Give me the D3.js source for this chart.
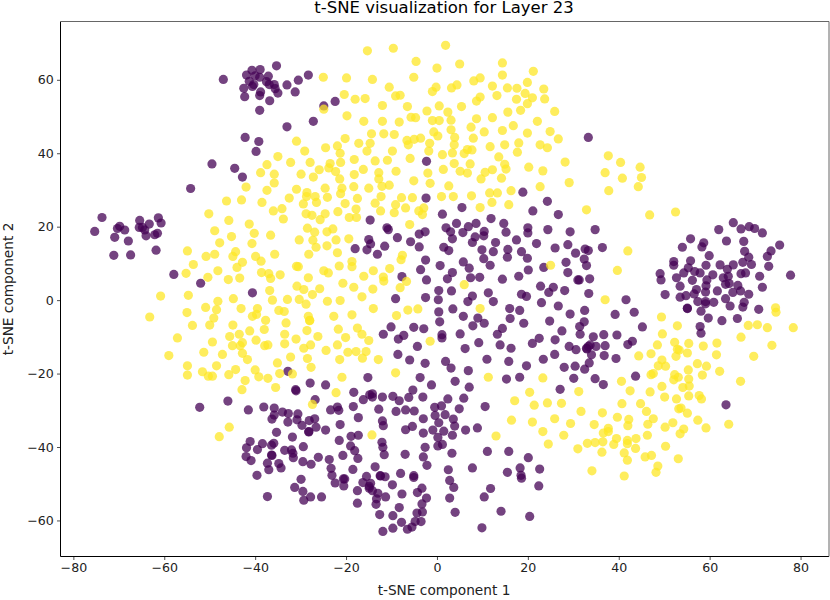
<!DOCTYPE html>
<html><head><meta charset="utf-8">
<script src="https://cdn.jsdelivr.net/npm/d3@7/dist/d3.min.js"></script>
<style>html,body{margin:0;padding:0;background:#fff}svg{display:block}text{font-family:"DejaVu Sans",sans-serif;fill:#000}</style>
</head><body><svg id="c" width="830" height="600"></svg>
<script>
const chartTitle = "t-SNE visualization for Layer 23";
const xLabel = "t-SNE component 1";
const yLabel = "t-SNE component 2";
const xTicks = [-80,-60,-40,-20,0,20,40,60,80];
const yTicks = [-60,-40,-20,0,20,40,60];
const classZero = [
[-47.0,60.1],[-40.7,62.6],[-38.9,62.8],[-35.3,63.8],[-41.9,61.3],[-40.0,61.1],[-39.0,60.7],[-37.1,61.0],[-41.3,59.6],[-37.5,59.5],[-40.3,58.7],[-40.6,58.2],[-36.9,58.7],[-35.8,58.7],[-35.6,57.6],[-35.0,56.4],[-42.5,57.7],[-38.8,56.7],[-39.0,55.7],[-42.3,55.4],[-36.8,54.3],[-39.0,51.7],[-33.0,58.6],[-30.5,59.9],[-28.3,61.3],[-31.2,56.7],[-33.0,47.2],[-27.2,48.7],[-42.2,44.3],[-39.2,43.2],[-39.8,40.5],[-49.5,37.1],[-44.5,35.9],[-42.8,33.5],[-54.2,30.4],[-24.9,52.9],[-22.4,54.1],
[-2.3,37.8],[18.9,29.4],[-2.4,27.8],[24.3,26.9],
[33.3,44.3],[34.8,19.2],[65.2,21.1],[62.0,19.2],[66.9,19.4],[68.7,20.0],[69.9,19.5],[71.6,18.3],[55.8,16.7],[58.7,15.6],[58.3,14.5],[54.0,14.4],[63.7,16.1],[67.5,16.0],[75.4,15.0],[73.5,13.4],[72.7,11.9],[67.7,13.3],[68.6,11.7],[59.9,12.1],[69.2,9.7],[67.3,10.3],[73.0,9.2],[55.8,10.7],[52.1,10.5],[52.1,9.5],[55.3,8.8],[59.2,9.5],[62.3,9.6],[65.2,9.6],[63.9,8.4],[56.7,7.8],[57.9,7.4],[54.3,7.4],[49.1,7.2],[49.3,5.5],[60.7,6.9],[66.9,7.2],[67.9,7.4],[71.0,6.5],[77.8,6.8],[52.7,6.1],[56.2,5.4],[63.0,6.1],[64.1,6.5],[59.4,5.5],[53.5,3.8],[59.2,3.9],[63.5,4.3],[64.3,4.5],[66.2,4.0],[71.6,3.5],[66.8,2.5],[57.1,2.9],[61.7,2.5],[65.1,2.1],[68.6,1.6],[59.1,2.2],[56.6,1.7],[50.2,1.5],[53.5,0.8],[54.8,1.2],[63.5,0.4],
[57.4,-0.4],[59.1,-0.4],[59.1,-1.0],[60.9,-0.6],[55.1,-2.2],[55.1,-2.3],[58.1,-3.0],[64.5,-1.6],[67.3,-1.9],[67.6,-0.6],[70.8,-2.5],[59.7,-4.9],[62.7,-5.6],[66.1,-5.0],[57.9,-7.2],[58.1,-9.0],[45.2,-7.3],
[32.6,13.9],[33.3,13.5],[36.4,14.3],[32.4,11.2],[32.9,9.4],[31.3,5.5],[33.6,5.8],[33.4,1.8],[41.6,0.1],
[-57.9,7.0],[-52.0,4.6],[-40.6,2.0],[-32.8,-19.4],[-27.9,-22.6],[-24.5,-23.1],[-31.1,-24.4],
[-52.2,-29.2],[-46.0,-27.5],[-41.5,-29.9],[-38.1,-29.1],[-35.8,-29.4],[-34.0,-30.5],[-35.8,-31.3],[-36.3,-32.4],[-32.7,-30.9],[-30.6,-31.0],[-30.8,-32.6],[-32.8,-33.2],[-29.7,-34.1],[-28.1,-32.8],[-26.9,-32.3],[-26.6,-34.6],[-28.2,-35.8],[-28.2,-35.9],[-24.5,-35.4],[-31.0,-24.7],[-26.8,-27.1],[-18.3,-25.1],[-16.2,-27.1],[-14.8,-25.8],[-18.4,-29.0],[-23.4,-29.9],[-21.9,-29.1],[-21.6,-30.0],[-17.3,-32.0],[-21.3,-33.9],[-35.3,-36.0],[-31.8,-37.3],[-21.5,-38.2],[-18.9,-37.1],[-17.3,-36.8],[-41.1,-38.5],[-38.4,-39.1],[-35.9,-39.0],[-36.4,-39.5],[-41.9,-40.2],[-39.5,-40.7],[-29.4,-39.9],[-19.0,-39.7],[-18.1,-41.0],[-33.5,-40.9],[-32.0,-40.8],[-31.7,-41.7],[-42.0,-42.6],[-40.9,-43.7],[-36.4,-42.2],[-36.3,-42.3],[-31.6,-42.9],[-26.1,-42.8],[-20.7,-42.3],[-23.7,-43.4],[-17.4,-43.1],[-29.5,-44.0],[-27.7,-44.7],[-37.3,-44.4],[-34.8,-44.5],[-34.3,-45.7],[-37.0,-46.2],[-23.3,-45.8],[-18.5,-46.1],[-39.6,-47.7],[-23.1,-47.7],[-29.9,-48.8],[-20.6,-48.7],[-20.3,-48.7],[-22.4,-49.8],[-20.5,-50.6],[-31.3,-51.0],[-16.3,-49.7],[-17.5,-51.9],[-29.5,-52.1],[-37.3,-53.5],[-27.8,-53.6],[-25.4,-53.6],[-29.3,-54.5],[-17.5,-55.3],[-15.5,-48.0],[-14.9,-50.7],
[7.1,-23.7],[-5.3,-24.5],[-14.2,-25.5],[-14.2,-26.4],[-12.0,-26.4],[-9.7,-26.2],[-8.3,-27.4],[-6.2,-26.5],[-3.1,-26.4],[2.4,-26.9],[5.9,-26.7],[-0.5,-29.2],[1.0,-28.8],[4.9,-29.6],[10.6,-29.0],[-12.8,-29.7],[-9.0,-30.3],[-6.9,-29.9],[-5.0,-30.2],[-0.4,-31.4],[1.8,-31.2],[-3.0,-32.3],[3.6,-32.4],[0.4,-33.4],[-12.0,-32.9],[-11.8,-34.2],[-5.4,-34.4],[-6.9,-35.3],[3.9,-34.3],[8.9,-34.8],[6.3,-35.4],[-0.9,-35.4],[1.5,-35.7],[-3.0,-36.2],[3.4,-36.8],[0.2,-37.4],[-12.1,-38.7],[-11.9,-40.1],[1.2,-39.3],[0.2,-39.7],[-2.6,-40.1],[11.1,-41.2],[15.8,-41.2],[3.3,-41.7],[-11.6,-42.1],[-7.0,-42.0],[-3.0,-42.7],[20.1,-42.9],[-2.2,-45.0],[-13.6,-45.4],[2.5,-46.2],[7.8,-45.7],[18.3,-45.7],[22.6,-46.0],[15.5,-46.9],[-8.0,-47.2],[-12.5,-47.8],[-12.4,-47.9],[-11.4,-48.1],[-5.1,-47.8],[-5.1,-48.3],[18.5,-47.7],[18.6,-48.5],[2.8,-49.1],[-9.8,-50.3],[-14.6,-49.9],[-14.9,-51.2],[-14.2,-51.9],[3.7,-51.0],[-3.3,-51.2],[11.8,-51.3],[22.4,-50.6],[-4.3,-52.4],[-7.7,-52.8],[-13.0,-52.6],[-11.3,-53.6],[-13.3,-54.1],[-2.3,-53.9],[2.8,-53.9],[10.4,-53.6],[-3.3,-55.5],[-13.4,-55.6],[-8.3,-56.5],[14.1,-57.5],[-3.2,-57.7],[-4.4,-58.0],[4.0,-57.8],[-12.6,-58.4],[-9.7,-58.7],[20.4,-58.9],[-3.5,-60.3],[-4.8,-60.3],[-7.8,-60.5],[-5.5,-61.8],[-6.5,-62.4],[-9.7,-62.1],[-11.9,-63.0],[9.9,-62.0],
[5.5,25.2],[1.2,23.4],[21.1,24.3],[26.7,23.3],[-14.7,21.8],[11.9,22.2],[4.3,20.9],[8.6,20.9],[14.7,20.9],[-11.0,19.7],[-10.7,19.2],[2.0,19.7],[6.9,20.0],[3.0,18.6],[5.7,18.4],[10.4,18.7],[10.3,17.5],[15.2,18.5],[20.0,19.7],[20.0,18.3],[24.4,19.2],[29.3,18.6],[-2.6,18.6],[-3.9,18.0],[-8.7,17.0],[-15.0,16.5],[-14.6,15.3],[8.4,17.2],[3.4,16.7],[7.8,15.7],[12.9,15.7],[17.5,16.4],[21.9,15.4],[28.8,15.1],[-5.8,15.9],[-3.9,14.5],[-11.5,14.7],[-18.0,14.0],[-15.4,13.7],[-13.1,12.5],[1.5,14.4],[2.6,13.5],[9.9,13.7],[12.4,13.2],[15.6,13.8],[15.5,11.7],[18.6,13.2],[26.0,14.2],[30.5,12.8],[10.3,11.3],[19.9,11.4],[-2.5,10.9],[5.8,10.4],[11.7,9.5],[28.4,10.3],[0.7,9.4],[7.1,8.7],[20.1,8.2],[23.5,8.9],[-3.6,8.3],[28.8,7.5],[3.4,7.5],[-7.7,6.4],[2.3,5.8],[7.4,6.1],[9.4,6.2],[14.4,5.7],[18.0,6.5],[-2.3,5.5],[31.0,5.5],[22.8,3.8],[25.6,3.5],[24.6,2.1],[28.1,2.6],[0.4,2.6],[3.2,2.5],[11.3,2.0],[18.6,1.6],[19.7,1.0],[7.8,1.1],[-9.1,0.4],[-2.5,0.7],[6.8,-0.4],[12.4,-0.4],[0.3,0.1],[23.0,-0.7],[26.7,-1.6],[3.5,-2.4],[16.0,-2.3],[18.2,-2.8],[0.4,-3.2],[32.5,-2.8],[29.3,-3.8],[5.8,-4.4],[9.0,-4.9],[16.1,-5.0],[0.6,-5.9],[24.8,-5.7],[10.4,-6.3],[19.1,-6.3],[7.9,-7.0],[-10.1,-7.3],[-5.1,-7.4],[-2.9,-7.8],[14.4,-7.7],[31.4,-7.2],[27.5,-8.4],[5.1,-9.2],[13.3,-9.3],[31.5,-9.3],[-11.8,-9.3],[-7.3,-9.6],[-8.5,-10.6],[1.1,-9.4],[1.1,-10.3],[22.5,-10.4],[26.0,-10.8],[21.0,-11.8],[9.2,-11.6],[13.9,-12.2],[29.1,-12.6],[-4.3,-12.6],[33.3,-12.6],[32.9,-13.1],[30.6,-13.5],[6.2,-13.2],[16.3,-13.1],[-8.6,-14.8],[25.9,-14.8],[-6.0,-16.3],[-2.6,-17.2],[23.4,-16.1],[11.0,-16.1],[1.9,-16.7],[15.8,-16.7],[19.7,-17.9],[3.1,-18.5],[28.0,-18.3],[30.4,-18.0],[32.5,-18.8],[6.9,-19.2],[-15.2,-21.1],[-3.7,-21.1],[4.0,-22.1],[-1.2,-23.1],[18.2,-21.0],[15.3,-21.5],[30.1,-21.3],
[39.2,-3.9],[43.4,-3.3],[32.4,-5.9],[34.4,-10.0],[36.7,-9.4],[39.6,-9.5],[43.0,-11.2],[42.0,-12.1],[33.7,-12.2],[33.0,-13.3],[35.0,-12.6],[37.0,-12.4],[34.0,-14.9],[36.8,-15.1],[39.4,-15.9],[33.5,-17.1],[34.8,-21.4],[36.6,-23.0],[43.7,-20.7],[27.1,-24.3],[63.6,-28.5],
[-73.7,22.5],[-75.3,18.7],[-70.3,19.5],[-69.8,20.1],[-68.7,19.1],[-70.9,17.1],[-67.9,16.1],[-71.1,12.2],[-67.4,12.3],[-65.4,21.7],[-63.3,20.7],[-61.3,22.4],[-60.7,21.0],[-65.5,19.8],[-64.8,19.8],[-64.3,19.1],[-64.0,17.5],[-62.1,17.8],[-61.5,18.2],[-61.8,13.6]
];
const classOne = [
[-24.9,52.0],[-30.9,43.3],[-29.1,40.6],[-35.0,39.1],[-37.4,36.9],[-32.2,37.5],[-27.9,37.5],[-25.9,35.5],[-38.8,34.7],[-35.8,34.3],[-29.9,34.3],[-27.2,33.5],[-35.8,31.9],[-42.0,30.8],[-37.4,29.9],[-30.9,30.2],[-28.6,29.3],[-26.8,28.2],[-28.7,28.2],[-32.5,27.8],[-43.0,27.3],[-46.3,27.0],[-38.5,26.6],
[-15.3,67.9],[-9.6,68.6],[1.9,69.4],[-4.6,65.0],[0.0,63.2],[5.0,64.3],[14.4,64.6],[21.2,62.3],[-25.0,60.7],[-19.9,60.5],[-14.2,60.1],[-5.1,60.7],[14.4,61.3],[8.1,59.7],[9.5,60.5],[19.9,59.3],[-10.5,58.0],[-0.2,58.0],[-1.0,56.8],[3.2,57.8],[4.4,58.6],[12.2,58.3],[15.5,57.8],[17.6,57.7],[23.5,57.5],[19.4,56.3],[-20.4,56.0],[-18.0,54.7],[-15.8,54.9],[-9.1,55.6],[-8.1,55.8],[13.2,55.7],[9.5,55.3],[8.7,54.2],[17.5,54.7],[21.0,55.1],[23.7,54.8],[19.9,53.5],[-12.0,53.0],[-6.5,52.7],[0.5,52.9],[5.4,52.7],[-2.2,51.5],[2.4,51.2],[15.6,51.2],[18.4,51.7],[25.9,51.4],[-19.8,50.2],[-5.7,49.8],[-4.7,49.7],[8.7,49.4],[12.2,49.7],[-16.1,48.7],[-12.0,48.7],[-8.3,48.5],[-1.0,48.9],[0.5,48.9],[3.1,49.0],[22.1,48.7],[7.5,47.1],[16.8,47.5],[3.1,46.4],[14.4,46.2],[10.4,45.8],[19.9,45.5],[24.9,45.9],[-0.7,45.8],[0.2,44.7],[-14.4,45.3],[-11.7,45.3],[-9.4,45.1],[3.9,44.3],[8.0,44.1],[26.7,43.9],[-20.2,44.0],[-6.6,43.5],[-5.0,43.8],[-3.6,44.1],[-6.3,42.3],[-1.6,42.7],[3.8,42.3],[-17.2,42.7],[-14.7,42.7],[18.0,42.8],[14.9,42.3],[11.7,41.8],[22.7,42.3],[24.3,41.5],[-24.5,41.5],[-21.9,42.0],[6.7,41.0],[7.7,40.9],[6.0,39.9],[-15.4,40.6],[-9.8,40.6],[-1.8,40.6],[3.4,40.1],[1.2,39.6],[17.7,40.3],[-21.3,40.0],[13.6,39.0],[-18.2,38.3],[-10.9,38.1],[-5.9,38.6],[-13.6,37.9],[-23.5,37.2],[-21.2,37.5],[28.2,37.6],[3.8,37.2],[7.3,37.1],[14.9,37.0],[20.2,36.2],[-23.8,36.0],[-16.2,35.6],[1.4,35.6],[12.2,35.5],[15.2,35.7],[23.3,35.2],[-22.3,35.0],[-9.0,35.1],[5.1,35.1],[6.7,34.6],[10.6,34.8],[-18.2,34.2],[-12.8,34.7],[-2.0,34.6],[-21.4,33.0],[-12.8,33.0],[9.7,33.0],[14.2,33.2],[-5.1,32.5],[-1.5,31.8],[29.1,32.0],[-10.5,31.3],[-12.1,31.0],[2.6,31.1],[-18.3,30.9],[-24.6,30.5],[-20.9,30.5],[-15.0,30.5],[22.7,30.9],[16.3,29.8],[11.6,29.2],[13.3,29.2],[-21.2,29.0],[1.0,28.2],[3.6,28.2],[7.6,28.4],[-12.3,28.2],[-7.8,27.9],[-5.4,27.9],[-24.1,28.0],[-17.5,27.7],
[37.7,39.3],[40.4,37.5],[44.7,36.2],[37.0,34.7],[40.8,33.2],[45.0,33.4],[44.3,30.9],[37.8,29.8],[32.9,24.6],[46.8,23.2],[52.5,24.0],[42.0,13.4],[39.7,8.1],[37.0,0.1],
[-50.2,23.5],[-29.4,26.2],[-26.5,26.6],[-36.0,24.3],[-34.1,24.9],[-33.8,22.1],[-28.8,23.5],[-27.5,23.1],[-25.7,21.9],[-24.6,23.5],[-45.8,21.7],[-41.3,20.7],[-48.9,18.9],[-40.2,18.2],[-36.6,17.7],[-45.2,17.3],[-28.5,19.6],[-26.9,18.5],[-24.2,18.6],[-47.8,15.6],[-40.7,15.4],[-30.3,16.4],[-27.3,16.3],[-26.6,14.4],[-24.2,14.8],[-54.9,13.4],[-48.9,12.5],[-50.8,11.9],[-44.3,13.2],[-44.9,11.9],[-35.7,12.5],[-39.9,11.9],[-28.2,12.5],[-38.7,10.6],[-53.6,9.7],[-42.8,10.3],[-44.0,8.9],[-48.2,8.0],[-55.2,7.3],[-50.4,6.2],[-45.9,5.6],[-43.4,6.0],[-38.6,7.5],[-37.0,7.2],[-36.6,5.9],[-34.5,6.9],[-30.9,9.2],[-30.5,9.1],[-24.9,8.0],[-23.9,7.4],[-28.3,6.1],[-30.8,3.8],[-29.3,2.9],[-25.8,3.1],[-36.8,2.6],[-27.4,1.5],[-60.8,1.1],[-54.7,1.3],[-36.2,0.0],[-32.9,0.2],[-44.8,0.4],[-48.2,-0.3],[-30.3,0.2],[-28.8,-1.1],[-24.1,-0.3],[-50.9,-2.0],[-48.5,-2.6],[-43.1,-2.3],[-39.5,-2.3],[-34.8,-2.8],[-33.6,-3.1],[-55.0,-3.4],[-39.7,-3.9],[-40.6,-4.4],[-28.3,-4.4],[-49.1,-4.9],[-28.0,-5.5],[-28.0,-5.6],[-63.2,-4.6],[-37.7,-5.5],[-33.2,-6.2],[-53.8,-6.9],[-50.0,-6.8],[-44.9,-6.8],[-38.0,-8.0],[-41.2,-8.4],[-28.6,-8.3],[-43.5,-9.3],[-45.6,-9.9],[-33.5,-9.3],[-26.2,-9.9],[-31.0,-10.6],[-57.1,-10.3],[-39.8,-10.9],[-49.4,-11.4],[-42.8,-11.6],[-45.0,-12.4],[-43.3,-12.4],[-37.9,-12.4],[-37.2,-12.2],[-33.5,-11.9],[-27.8,-12.2],[-29.3,-13.1],[-24.4,-13.7],[-51.3,-14.2],[-47.2,-14.8],[-42.8,-14.5],[-59.0,-15.1],[-41.7,-16.2],[-32.2,-15.5],[-28.5,-15.9],[-35.1,-17.1],[-54.9,-17.9],[-48.5,-17.9],[-27.7,-18.3],[-40.0,-19.0],[-44.3,-18.9],[-51.6,-19.5],[-54.9,-20.4],[-45.8,-20.3],[-34.6,-20.0],[-31.8,-20.1],[-50.3,-20.7],[-49.4,-20.7],[-39.2,-20.9],[-37.2,-21.3],[-42.2,-21.9],[-35.5,-23.8],[-42.9,-24.4],
[-22.2,-25.2],[-27.4,-28.4],[-45.7,-34.6],[-47.9,-37.2],
[-14.3,-36.7],[20.4,-25.1],[17.1,-27.4],[21.4,-28.6],[24.3,-28.0],[16.4,-32.7],[21.0,-33.2],[23.3,-35.8],[13.0,-37.0],[24.5,-39.2],
[-20.2,26.3],[-13.6,26.4],[-9.1,26.0],[-6.9,25.1],[-2.9,25.1],[-4.0,24.3],[-3.2,23.3],[9.5,25.2],[12.1,26.6],[15.8,26.0],[-21.8,24.1],[-17.8,24.8],[-19.3,22.5],[-17.7,22.5],[-12.4,24.3],[-9.4,23.8],[-6.0,20.6],[-22.9,19.4],[-19.4,16.7],[-22.2,16.4],[-21.9,12.9],[-7.6,12.2],[-7.9,11.0],[-18.7,10.5],[-18.7,9.1],[-21.5,9.3],[-10.4,8.6],[-14.0,8.0],[-16.1,6.5],[-11.8,6.3],[-11.7,5.2],[-6.7,5.1],[-20.7,4.6],[-18.3,3.5],[-14.1,3.0],[-8.1,3.4],[6.0,4.2],[-16.5,0.9],[-21.3,-0.1],[25.0,9.5],[-14.0,-2.3],[9.5,-2.3],[-6.4,-2.7],[-4.2,-2.4],[-18.7,-4.0],[-8.9,-4.2],[-22.7,-4.4],[-21.7,-7.9],[-17.5,-7.6],[-16.5,-9.3],[-20.1,-10.2],[-15.0,-11.0],[-1.5,-11.2],[-21.9,-12.2],[-19.6,-14.2],[-17.8,-14.0],[-15.6,-14.0],[-16.4,-15.8],[-21.4,-16.2],[-12.9,-16.2],[-9.1,-19.8],[-20.9,-21.0],[11.3,-21.0],[23.3,-21.2],
[49.4,-4.6],[52.9,-7.0],[49.6,-9.2],[74.5,-2.1],[74.6,-3.3],[68.5,-6.9],[70.5,-6.7],[72.7,-7.5],[78.4,-7.5],[66.9,-10.1],[73.7,-12.3],[48.5,-12.2],[52.3,-11.5],[55.4,-11.8],[58.6,-12.5],[61.6,-11.7],[52.9,-13.4],[53.3,-13.6],[47.1,-14.6],[44.4,-15.2],[55.1,-14.4],[61.5,-14.9],[52.6,-15.3],[69.7,-15.3],[49.5,-16.3],[57.3,-17.3],[48.7,-17.9],[50.3,-18.0],[59.3,-18.0],[55.3,-19.0],[62.2,-19.4],[47.1,-20.3],[47.6,-20.0],[52.3,-20.3],[53.1,-21.0],[52.1,-21.7],[58.4,-20.4],[55.4,-21.5],[40.6,-22.1],[66.8,-22.1],[55.5,-23.4],[54.1,-23.8],[49.5,-23.5],[31.2,-24.9],[42.5,-24.7],[46.9,-25.0],[50.1,-26.4],[52.7,-26.9],[55.4,-26.1],[57.7,-26.0],[58.2,-26.9],[27.4,-28.1],[40.7,-28.2],[44.8,-28.2],[46.1,-30.3],[53.2,-29.6],[53.7,-29.4],[55.1,-30.8],[31.7,-30.3],[36.4,-30.7],[39.7,-31.9],[25.9,-32.3],[42.2,-32.5],[47.6,-32.3],[57.4,-32.7],[29.4,-33.6],[34.6,-33.9],[42.0,-34.2],[46.4,-33.8],[51.9,-33.4],[50.2,-34.6],[64.2,-33.8],[59.2,-34.8],[54.3,-35.1],[37.7,-34.9],[37.7,-35.8],[36.6,-36.2],[53.5,-36.4],[46.3,-36.8],[27.9,-36.8],[39.5,-37.7],[43.8,-37.7],[41.9,-38.2],[41.9,-39.1],[33.1,-39.0],[34.8,-38.8],[36.5,-38.6],[38.9,-39.3],[31.0,-40.5],[43.7,-40.4],[50.3,-39.8],[36.3,-41.4],[41.2,-41.6],[45.8,-42.7],[47.2,-42.3],[53.1,-43.2],[41.9,-43.6],[48.6,-45.2],[48.2,-46.9],[34.1,-46.5],[41.2,-47.9]
];

const W=830,H=600,L=60.5,R=829,T=21.5,B=556.5;
const svg=d3.select("#c");
const x=d3.scaleLinear().domain([-82.83,86.26]).range([L,R]);
const y=d3.scaleLinear().domain([75.88,-69.82]).range([T,B]);
const series=[{pts:classZero,c:"#440154"},{pts:classOne,c:"#fde725"}];
series.forEach(s=>{
  svg.append("g").selectAll("circle").data(s.pts).join("circle")
    .attr("cx",d=>x(d[0])).attr("cy",d=>y(d[1])).attr("r",4.6)
    .attr("fill",s.c).attr("fill-opacity",0.74);
});
const fmt=d=>d<0?"\u2212"+Math.abs(d):String(d);
const ax=svg.append("g").attr("transform",`translate(0,${B})`).call(d3.axisBottom(x).tickValues(xTicks).tickFormat(fmt).tickSize(3.5).tickPadding(3.2));
const ay=svg.append("g").attr("transform",`translate(${L},0)`).call(d3.axisLeft(y).tickValues(yTicks).tickFormat(fmt).tickSize(3.5).tickPadding(3.2));
[ax,ay].forEach(a=>{a.select(".domain").remove();a.selectAll("text").attr("font-size",12.6).attr("font-family","DejaVu Sans").style("fill","#222");a.selectAll("line").attr("stroke","#222").attr("stroke-width",0.8);});
svg.append("line").attr("x1",L).attr("x2",L).attr("y1",T).attr("y2",B).attr("stroke","#000").attr("stroke-width",1);
svg.append("line").attr("x1",L).attr("x2",R).attr("y1",B).attr("y2",B).attr("stroke","#000").attr("stroke-width",1);
svg.append("line").attr("x1",L).attr("x2",R).attr("y1",T).attr("y2",T).attr("stroke","#666").attr("stroke-width",1);
svg.append("line").attr("x1",R).attr("x2",R).attr("y1",T).attr("y2",B).attr("stroke","#666").attr("stroke-width",1);
svg.append("text").attr("x",444).attr("y",13).attr("text-anchor","middle").attr("font-size",16.5).text(chartTitle);
svg.append("text").attr("x",444).attr("y",595).attr("text-anchor","middle").attr("font-size",13.7).style("fill","#222").text(xLabel);
svg.append("text").attr("transform","translate(12.5,289) rotate(-90)").attr("text-anchor","middle").attr("font-size",13.7).style("fill","#222").text(yLabel);
</script></body></html>
